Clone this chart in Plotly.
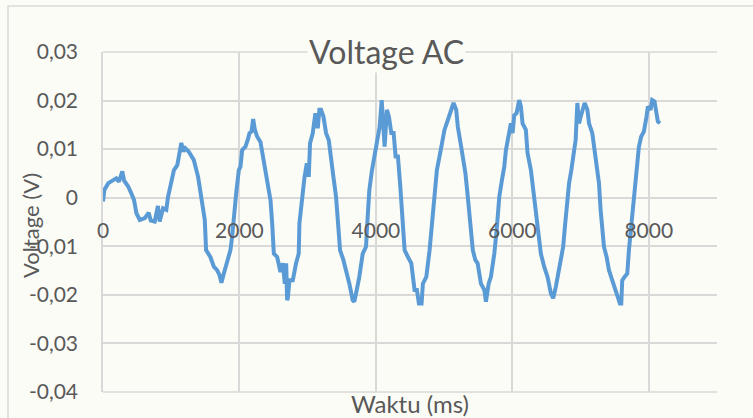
import plotly.graph_objects as go

# ---- data ----
t_ms = [0, 20, 77, 150, 195, 234, 283, 310, 370, 415, 455, 490, 540, 613, 670, 700, 758, 805, 830, 880,
        928, 953, 992, 1040, 1089, 1124, 1148, 1177, 1206, 1255, 1294, 1330, 1394, 1428, 1462, 1492, 1511,
        1574, 1625, 1672, 1707, 1736, 1771, 1820, 1868, 1893, 1918, 1952, 1991, 2015, 2040, 2088, 2128,
        2147, 2176, 2201, 2226, 2259, 2308, 2343, 2381, 2421, 2455, 2480, 2504, 2553, 2601, 2636, 2665,
        2685, 2699, 2709, 2733, 2782, 2830, 2869, 2879, 2903, 2928, 2952, 2987, 3016, 3035, 3075, 3113,
        3148, 3172, 3196, 3231, 3270, 3309, 3343, 3377, 3416, 3441, 3475, 3523, 3563, 3611, 3660, 3684,
        3719, 3757, 3807, 3855, 3880, 3904, 3943, 3977, 4026, 4055, 4085, 4128, 4162, 4191, 4226, 4260,
        4289, 4323, 4358, 4387, 4421, 4470, 4519, 4567, 4601, 4631, 4670, 4689, 4739, 4787, 4826, 4860,
        4894, 4933, 4972, 5006, 5055, 5104, 5138, 5177, 5201, 5250, 5313, 5347, 5382, 5421, 5457, 5491,
        5540, 5590, 5613, 5653, 5686, 5736, 5770, 5809, 5847, 5882, 5906, 5945, 5979, 6004, 6028, 6062,
        6101, 6125, 6150, 6198, 6223, 6272, 6306, 6345, 6384, 6418, 6467, 6516, 6565, 6599, 6638, 6677,
        6711, 6745, 6775, 6809, 6832, 6865, 6894, 6914, 6928, 6953, 6977, 7002, 7026, 7060, 7100, 7124,
        7172, 7206, 7245, 7270, 7294, 7343, 7382, 7416, 7465, 7514, 7548, 7577, 7597, 7611, 7645, 7685,
        7709, 7733, 7758, 7782, 7806, 7831, 7855, 7889, 7928, 7967, 7987, 8026, 8050, 8084, 8114, 8133,
        8163]

voltage = [-0.0008, 0.0016, 0.0030, 0.0035, 0.0040, 0.0033, 0.0054, 0.0035, 0.0023, 0.0009, -0.0005,
           -0.0032, -0.0046, -0.0042, -0.0031, -0.0047, -0.0049, -0.0017, -0.0049, -0.0022, -0.0025,
           0.0002, 0.0030, 0.0057, 0.0067, 0.0095, 0.0113, 0.0095, 0.0102, 0.0095, 0.0085, 0.0078,
           0.0043, 0.0016, -0.0012, -0.0046, -0.0108, -0.0122, -0.0142, -0.0149, -0.0159, -0.0175,
           -0.0156, -0.0128, -0.0108, -0.0080, -0.0032, 0.0009, 0.0057, 0.0064, 0.0098, 0.0105, 0.0122,
           0.0133, 0.0136, 0.0162, 0.0140, 0.0126, 0.0115, 0.0085, 0.0057, 0.0023, -0.0005, -0.0053,
           -0.0115, -0.0122, -0.0153, -0.0135, -0.0177, -0.0135, -0.0211, -0.0207, -0.0170, -0.0170,
           -0.0135, -0.0115, -0.0053, -0.0019, 0.0016, 0.0040, 0.0071, 0.0043, 0.0112, 0.0133, 0.0174,
           0.0143, 0.0181, 0.0181, 0.0167, 0.0133, 0.0119, 0.0071, 0.0043, 0.0002, -0.0046, -0.0108,
           -0.0128, -0.0149, -0.0177, -0.0211, -0.0214, -0.0190, -0.0163, -0.0115, -0.0101, -0.0039,
           0.0016, 0.0057, 0.0085, 0.0119, 0.0146, 0.0201, 0.0105, 0.0181, 0.0167, 0.0133, 0.0133,
           0.0085, 0.0085, 0.0023, -0.0039, -0.0108, -0.0122, -0.0135, -0.0190, -0.0190, -0.0218,
           -0.0218, -0.0177, -0.0163, -0.0108, -0.0046, 0.0023, 0.0057, 0.0085, 0.0112, 0.0140, 0.0160,
           0.0181, 0.0195, 0.0181, 0.0146, 0.0105, 0.0050, 0.0002, -0.0053, -0.0108, -0.0128, -0.0135,
           -0.0177, -0.0190, -0.0214, -0.0177, -0.0163, -0.0115, -0.0067, 0.0002, 0.0036, 0.0064,
           0.0098, 0.0133, 0.0153, 0.0133, 0.0170, 0.0174, 0.0201, 0.0188, 0.0153, 0.0140, 0.0092,
           0.0057, 0.0016, -0.0032, -0.0067, -0.0115, -0.0142, -0.0163, -0.0197, -0.0207, -0.0183,
           -0.0156, -0.0128, -0.0101, -0.0053, 0.0010, 0.0030, 0.0057, 0.0085, 0.0098, 0.0119, 0.0195,
           0.0153, 0.0167, 0.0181, 0.0195, 0.0181, 0.0153, 0.0133, 0.0092, 0.0050, 0.0030, -0.0025,
           -0.0101, -0.0122, -0.0149, -0.0170, -0.0190, -0.0207, -0.0218, -0.0218, -0.0170, -0.0163,
           -0.0156, -0.0108, -0.0073, -0.0019, 0.0016, 0.0043, 0.0078, 0.0105, 0.0126, 0.0136, 0.0167,
           0.0188, 0.0181, 0.0201, 0.0198, 0.0174, 0.0157, 0.0153]

x_tick_vals = [0, 2000, 4000, 6000, 8000]
x_tick_text = ["0", "2000", "4000", "6000", "8000"]
y_tick_vals = [0.03, 0.02, 0.01, 0, -0.01, -0.02, -0.03, -0.04]
y_tick_text = ["0,03", "0,02", "0,01", "0", "-0,01", "-0,02", "-0,03", "-0,04"]

title_text = "Voltage AC"
x_title = "Waktu (ms)"
y_title = "Voltage (V)"

# ---- styling ----
BG = "#fcfcf7"
GRID = "#d9d9d9"
TXT = "#595959"
LINE = "#5b9bd5"
FONT = "Lato"

W, H = 753, 418
L, R, T, B = 103, 36, 52, 26
plot_w = W - L - R
plot_h = H - T - B
y_min, y_max = -0.04, 0.03
zero_frac = (0 - y_min) / (y_max - y_min)

fig = go.Figure()
fig.add_trace(go.Scatter(x=t_ms, y=voltage, mode="lines",
                         line=dict(color=LINE, width=4), showlegend=False))

fig.update_layout(
    width=W, height=H,
    margin=dict(l=L, r=R, t=T, b=B),
    paper_bgcolor=BG, plot_bgcolor=BG,
    font=dict(family=FONT, color=TXT),
    xaxis=dict(range=[0, 9000], tickvals=x_tick_vals, ticktext=x_tick_text,
               showgrid=True, gridcolor=GRID, gridwidth=1.5,
               zeroline=True, zerolinecolor=GRID, zerolinewidth=1.5,
               showline=False, anchor="free", position=zero_frac,
               ticks="", ticklabelstandoff=18,
               tickfont=dict(size=21, color=TXT, family=FONT)),
    yaxis=dict(range=[y_min, y_max], tickvals=y_tick_vals, ticktext=y_tick_text,
               showgrid=True, gridcolor=GRID, gridwidth=1.5,
               zeroline=True, zerolinecolor=GRID, zerolinewidth=1.5,
               showline=True, linecolor=GRID, linewidth=1.5,
               ticks="", ticklabelstandoff=19,
               tickfont=dict(size=21, color=TXT, family=FONT)),
)

# gridlines at the plot edges
fig.add_shape(type="line", xref="paper", yref="paper", x0=0, x1=1, y0=1, y1=1,
              line=dict(color=GRID, width=1.5), layer="below")
fig.add_shape(type="line", xref="paper", yref="paper", x0=0, x1=1, y0=0, y1=0,
              line=dict(color=GRID, width=1.5), layer="below")

# chart area border
fig.add_shape(type="rect", xref="paper", yref="paper",
              x0=(8 - L) / plot_w, x1=1 + (W + 10 - (W - R)) / plot_w,
              y0=-(H + 10 - (H - B)) / plot_h, y1=1 + (T - 6) / plot_h,
              line=dict(color=GRID, width=1.5), fillcolor="rgba(0,0,0,0)")

# title
fig.add_annotation(text=title_text, xref="paper", yref="paper",
                   x=(386 - L) / plot_w, y=1 - (51 - T) / plot_h,
                   xanchor="center", yanchor="middle", showarrow=False,
                   bgcolor=BG, font=dict(size=32, color=TXT, family=FONT))
# axis titles
fig.add_annotation(text=x_title, xref="paper", yref="paper",
                   x=0.5, y=-(403 - (H - B)) / plot_h,
                   xanchor="center", yanchor="middle", showarrow=False,
                   font=dict(size=24, color=TXT, family=FONT))
fig.add_annotation(text=y_title, xref="paper", yref="paper",
                   x=(30 - L) / plot_w, y=((H - B) - 226) / plot_h,
                   xanchor="center", yanchor="middle", showarrow=False, textangle=-90,
                   font=dict(size=22, color=TXT, family=FONT))

fig.write_html("out.html", config={"displayModeBar": False},
               post_script="document.body.style.margin='0';document.body.style.padding='0';")
